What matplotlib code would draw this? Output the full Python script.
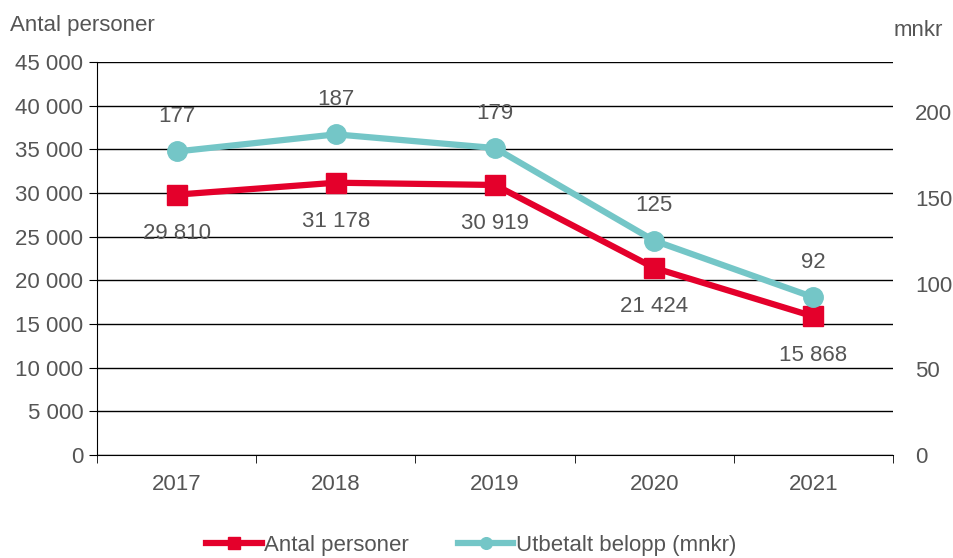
import matplotlib.pyplot as plt
from matplotlib.ticker import FuncFormatter

plt.rcParams['font.family'] = ['Liberation Sans', 'DejaVu Sans']

# data
years = ['2017', '2018', '2019', '2020', '2021']
antal = [29810, 31178, 30919, 21424, 15868]
belopp = [177, 187, 179, 125, 92]

red = '#E4002B'
teal = '#74C6C7'
text_color = '#555555'
fs = 16

fig = plt.figure(figsize=(9.54, 5.58), dpi=100)
ax = fig.add_axes([0.1017, 0.1846, 0.8343, 0.7043])
ax2 = ax.twinx()

x = list(range(len(years)))
l1, = ax.plot(x, antal, color=red, linewidth=4.5, marker='s', markersize=14, zorder=3)
l2, = ax2.plot(x, belopp, color=teal, linewidth=4.5, marker='o', markersize=14, zorder=3)

ax.set_xlim(-0.5, len(years) - 0.5)
ax.set_ylim(0, 45000)
ax.set_yticks(range(0, 45001, 5000))
ax.yaxis.set_major_formatter(FuncFormatter(lambda v, p: f'{int(v):,}'.replace(',', ' ')))
ax.grid(axis='y', color='black', linewidth=1)
ax.set_axisbelow(True)

ax2.set_ylim(0, 229.2)
ax2.set_yticks([0, 50, 100, 150, 200])

ax.set_xticks(x)
ax.set_xticklabels(years)
ax.set_xticks([i - 0.5 for i in range(len(years) + 1)], minor=True)
ax.tick_params(axis='x', which='major', length=0, pad=14, labelsize=fs, labelcolor=text_color)
ax.tick_params(axis='x', which='minor', length=6, direction='out', color='black')
ax.tick_params(axis='y', length=6, labelsize=fs, labelcolor=text_color, pad=4)
ax2.tick_params(axis='y', length=0, labelsize=fs, labelcolor=text_color, pad=16)

for a in (ax, ax2):
    for s in ['top', 'right']:
        a.spines[s].set_visible(False)
ax2.spines['left'].set_visible(False)
ax2.spines['bottom'].set_visible(False)
ax.spines['left'].set_color('black')
ax.spines['bottom'].set_color('black')

# data labels
for i, v in enumerate(antal):
    ax.annotate(f'{v:,}'.replace(',', ' '), (i, v), xytext=(0, -28), textcoords='offset points',
                ha='center', va='center', fontsize=fs, color=text_color)
for i, v in enumerate(belopp):
    ax2.annotate(str(v), (i, v), xytext=(0, 25), textcoords='offset points',
                 ha='center', va='center', fontsize=fs, color=text_color)

fig.text(0.010, 0.955, 'Antal personer', fontsize=fs, color=text_color, ha='left', va='center')
fig.text(0.988, 0.945, 'mnkr', fontsize=fs, color=text_color, ha='right', va='center')

fig.legend([l1, l2], ['Antal personer', 'Utbetalt belopp (mnkr)'], loc='center',
           bbox_to_anchor=(0.494, 0.022), ncol=2, frameon=False, fontsize=fs,
           labelcolor=text_color, handlelength=2.5, handletextpad=0.1, columnspacing=2.2,
           markerscale=0.6)

fig.savefig('out.png', dpi=100)
